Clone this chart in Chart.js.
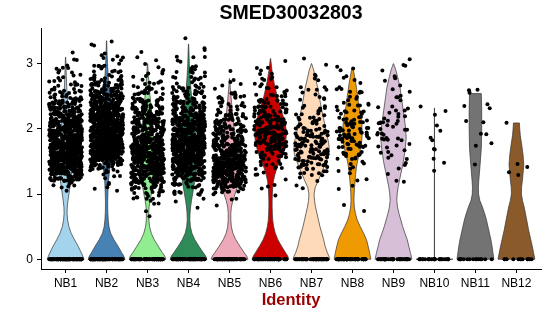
<!DOCTYPE html>
<html>
<head>
<meta charset="utf-8">
<script src="https://cdn.jsdelivr.net/npm/chart.js@4.4.1/dist/chart.umd.min.js"></script>
<style>
  html, body { margin: 0; padding: 0; background: #fff; }
  #wrap { width: 550px; height: 316px; }
</style>
</head>
<body>
<div id="wrap"><canvas id="vln"></canvas></div>
<script>
const categories = ['NB1', 'NB2', 'NB3', 'NB4', 'NB5', 'NB6', 'NB7', 'NB8', 'NB9', 'NB10', 'NB11', 'NB12'];
const fillColors = ['#A4D3EE', '#4682B4', '#90EE90', '#2E8B57', '#EEA9B8', '#CD0000',
                    '#FFDAB9', '#EE9A00', '#D8BFD8', '#BEBEBE', '#737373', '#8B5A2B'];
const yTicks = [0, 1, 2, 3];

// cells with zero expression, per identity
const zeroCounts = [80, 80, 60, 60, 60, 50, 50, 50, 40, 25, 15, 12];

// expressing cells per 0.1 bin, bins start at 0.5 (0.5, 0.6, ... 3.3)
const binStart = 0.5;
const binStep = 0.1;
const nb1Counts  = [0,0,0,0,0, 2,7,36,62,80, 92,86,74,62,56, 52,47,38,31,22, 12,8,6,5,4, 2,1,0,0];
const nb2Counts  = [0,0,0,0,0, 2,3,4,9,30, 55,74,86,92,92, 86,74,62,55,43, 34,24,14,9,7, 4,3,2,1];
const nb3Counts  = [0,1,1,3,7, 15,25,37,49,55, 59,55,52,47,42, 37,34,29,24,18, 12,8,6,4,3, 2,1,0,0];
const nb4Counts  = [0,0,1,1,3, 7,15,27,43,55, 68,74,74,68,59, 52,44,37,29,22, 17,12,8,6,4, 3,2,2,1];
const nb5Counts  = [0,0,0,1,3, 12,31,56,68,68, 55,43,34,29,24, 20,17,13,9,7, 5,3,2,1,0, 0,0,0,0];
const nb6Counts  = [0,0,0,0,1, 1,2,3,4,6, 10,16,22,26,28, 26,22,18,14,10, 8,6,4,3,2, 1,0,0,0];
const nb7Counts  = [0,0,0,0,0, 1,2,3,8,14, 18,20,20,18,14, 10,8,6,5,4, 4,3,2,2,1, 1,0,0,0];
const nb8Counts  = [0,0,1,1,0, 1,1,2,3,4, 6,8,12,14,14, 12,10,8,6,5, 4,3,3,2,2, 0,0,0,0];
const nb9Counts  = [0,0,0,0,0, 0,1,1,2,2, 3,3,4,6,7, 7,5,4,3,3, 2,2,2,2,2, 1,0,0,0];
const nb10Counts = [0,0,0,0,0, 0,0,0,1,1, 1,2,0,2,1, 1,0,2,1,0, 0,0,0,0,0, 0,0,0,0];
const nb11Counts = [0,0,0,0,0, 0,0,0,0,1, 0,0,2,0,2, 0,2,0,3,0, 3,0,0,0,0, 0,0,0,0];
const nb12Counts = [0,0,0,0,0, 0,0,1,1,2, 0,0,0,0,0, 1,0,0,0,0, 0,0,0,0,0, 0,0,0,0];
const pointCounts = [nb1Counts, nb2Counts, nb3Counts, nb4Counts, nb5Counts, nb6Counts,
                     nb7Counts, nb8Counts, nb9Counts, nb10Counts, nb11Counts, nb12Counts];

// violin outlines: [expression, relative half width]
const nb1Violin = [[0,1],[0.05,0.93],[0.1,0.85],[0.2,0.68],[0.3,0.48],[0.4,0.3],[0.5,0.18],[0.6,0.11],[0.7,0.08],[0.8,0.09],[0.9,0.13],[1.0,0.18],[1.2,0.28],[1.4,0.35],[1.6,0.35],[1.8,0.3],[2.0,0.24],[2.2,0.17],[2.4,0.11],[2.6,0.07],[2.8,0.04],[3.0,0.02],[3.1,0.005]];
const nb2Violin = [[0,1],[0.05,0.93],[0.1,0.82],[0.2,0.62],[0.3,0.4],[0.4,0.22],[0.5,0.13],[0.6,0.09],[0.7,0.07],[0.8,0.06],[0.9,0.06],[1.0,0.07],[1.2,0.1],[1.4,0.18],[1.6,0.26],[1.8,0.3],[2.0,0.3],[2.2,0.26],[2.4,0.2],[2.6,0.14],[2.8,0.09],[3.0,0.05],[3.2,0.02],[3.35,0.005]];
const nb3Violin = [[0,1],[0.05,0.93],[0.1,0.8],[0.2,0.58],[0.3,0.36],[0.4,0.2],[0.5,0.11],[0.6,0.07],[0.7,0.06],[0.8,0.08],[0.9,0.13],[1.0,0.2],[1.2,0.32],[1.4,0.38],[1.6,0.38],[1.8,0.34],[2.0,0.3],[2.2,0.24],[2.4,0.17],[2.6,0.1],[2.8,0.05],[3.0,0.005]];
const nb4Violin = [[0,1],[0.05,0.93],[0.1,0.8],[0.2,0.56],[0.3,0.34],[0.4,0.18],[0.5,0.1],[0.6,0.07],[0.7,0.08],[0.8,0.11],[0.9,0.16],[1.0,0.22],[1.2,0.34],[1.4,0.42],[1.6,0.45],[1.8,0.42],[2.0,0.36],[2.2,0.28],[2.4,0.2],[2.6,0.13],[2.8,0.08],[3.0,0.04],[3.2,0.02],[3.3,0.005]];
const nb5Violin = [[0,1],[0.05,0.93],[0.1,0.8],[0.2,0.56],[0.3,0.34],[0.4,0.18],[0.5,0.1],[0.6,0.07],[0.7,0.07],[0.8,0.1],[0.9,0.18],[1.0,0.3],[1.1,0.42],[1.2,0.52],[1.3,0.56],[1.4,0.54],[1.6,0.42],[1.8,0.32],[2.0,0.25],[2.2,0.18],[2.4,0.11],[2.6,0.05],[2.77,0.005]];
const nb6Violin = [[0,1],[0.05,0.93],[0.1,0.82],[0.2,0.6],[0.3,0.4],[0.4,0.26],[0.5,0.17],[0.6,0.12],[0.7,0.1],[0.8,0.09],[0.9,0.09],[1.0,0.1],[1.1,0.12],[1.2,0.16],[1.3,0.24],[1.4,0.35],[1.5,0.48],[1.6,0.62],[1.7,0.74],[1.8,0.82],[1.9,0.86],[2.0,0.84],[2.1,0.78],[2.2,0.68],[2.3,0.57],[2.4,0.46],[2.5,0.36],[2.6,0.28],[2.7,0.2],[2.8,0.14],[2.9,0.08],[3.0,0.04],[3.08,0.005]];
const nb7Violin = [[0,1],[0.05,0.94],[0.1,0.86],[0.2,0.74],[0.3,0.66],[0.4,0.56],[0.5,0.46],[0.6,0.38],[0.7,0.3],[0.8,0.22],[0.9,0.16],[1.0,0.14],[1.1,0.2],[1.2,0.36],[1.35,0.58],[1.5,0.8],[1.6,0.92],[1.7,0.96],[1.8,0.92],[1.9,0.84],[2.0,0.76],[2.1,0.7],[2.2,0.62],[2.4,0.48],[2.6,0.36],[2.8,0.2],[2.9,0.12],[3.0,0.005]];
const nb8Violin = [[0,1],[0.05,0.96],[0.1,0.93],[0.2,0.85],[0.3,0.76],[0.4,0.6],[0.5,0.42],[0.6,0.26],[0.7,0.16],[0.8,0.1],[0.9,0.08],[1.0,0.09],[1.1,0.11],[1.2,0.14],[1.3,0.17],[1.4,0.21],[1.5,0.27],[1.6,0.35],[1.7,0.44],[1.8,0.5],[1.9,0.52],[2.0,0.52],[2.1,0.5],[2.2,0.45],[2.3,0.38],[2.4,0.32],[2.5,0.28],[2.6,0.23],[2.7,0.18],[2.8,0.12],[2.9,0.05],[2.94,0.005]];
const nb9Violin = [[0,1],[0.1,0.92],[0.2,0.83],[0.3,0.75],[0.4,0.62],[0.5,0.5],[0.6,0.4],[0.7,0.3],[0.8,0.22],[0.9,0.18],[1.0,0.2],[1.1,0.25],[1.2,0.32],[1.35,0.43],[1.5,0.54],[1.7,0.64],[1.85,0.69],[2.0,0.66],[2.1,0.62],[2.3,0.52],[2.5,0.42],[2.63,0.36],[2.8,0.22],[2.9,0.13],[3.0,0.005]];
const nb10Violin = [[0,1],[0.006,0.004],[2.32,0.004]];
const nb11Violin = [[0,1],[0.1,0.95],[0.2,0.9],[0.3,0.84],[0.4,0.76],[0.5,0.68],[0.6,0.6],[0.7,0.5],[0.8,0.38],[0.9,0.24],[1.0,0.17],[1.1,0.16],[1.2,0.18],[1.4,0.24],[1.7,0.32],[2.0,0.34],[2.3,0.34],[2.54,0.32]];
const nb12Violin = [[0,1],[0.1,0.93],[0.2,0.86],[0.3,0.78],[0.45,0.66],[0.6,0.56],[0.8,0.42],[0.9,0.33],[1.0,0.27],[1.1,0.28],[1.25,0.34],[1.45,0.4],[1.6,0.36],[1.75,0.29],[1.9,0.21],[2.0,0.18],[2.09,0.16]];
const violins = [nb1Violin, nb2Violin, nb3Violin, nb4Violin, nb5Violin, nb6Violin,
                 nb7Violin, nb8Violin, nb9Violin, nb10Violin, nb11Violin, nb12Violin];

const VIOLIN_HALF = 0.45;
const JITTER = 0.4;

// fixed hash used only to scatter markers inside their bin (like geom_jitter)
function scatterOffset(k) {
  const s = Math.sin(k * 12.9898 + 78.233) * 43758.5453;
  return s - Math.floor(s);
}

function cellPoints(ci) {
  const cx = ci + 1;
  const pts = [];
  let k = ci * 1000;
  for (let j = 0; j < zeroCounts[ci]; j++) {
    k++;
    pts.push({ x: cx + 2 * JITTER * (scatterOffset(k) - 0.5), y: 0 });
  }
  pointCounts[ci].forEach((n, b) => {
    for (let j = 0; j < n; j++) {
      k++;
      pts.push({
        x: cx + 2 * JITTER * (scatterOffset(k) - 0.5),
        y: binStart + binStep * b + binStep * scatterOffset(k + 0.5)
      });
    }
  });
  return pts;
}

const violinPlugin = {
  id: 'violins',
  beforeDatasetsDraw(chart) {
    const { ctx, scales: { x, y } } = chart;
    ctx.save();
    violins.forEach((prof, ci) => {
      const cx = ci + 1;
      ctx.beginPath();
      prof.forEach(([v, w], i) => {
        const px = x.getPixelForValue(cx - w * VIOLIN_HALF);
        const py = y.getPixelForValue(v);
        i ? ctx.lineTo(px, py) : ctx.moveTo(px, py);
      });
      for (let i = prof.length - 1; i >= 0; i--) {
        const [v, w] = prof[i];
        ctx.lineTo(x.getPixelForValue(cx + w * VIOLIN_HALF), y.getPixelForValue(v));
      }
      ctx.closePath();
      ctx.fillStyle = fillColors[ci];
      ctx.fill();
      ctx.lineWidth = 0.7;
      ctx.strokeStyle = '#333';
      ctx.lineJoin = 'round';
      ctx.stroke();
    });
    ctx.restore();
  }
};

new Chart('vln', {
  type: 'scatter',
  data: {
    datasets: categories.map((c, ci) => ({
      label: c,
      data: cellPoints(ci),
      pointRadius: 2,
      pointHoverRadius: 2,
      backgroundColor: '#000',
      borderWidth: 0
    }))
  },
  options: {
    responsive: true,
    maintainAspectRatio: false,
    animation: false,
    events: [],
    layout: { padding: { left: 0, right: 9, top: 0, bottom: 0 } },
    plugins: {
      legend: { display: false },
      tooltip: { enabled: false },
      title: {
        display: true,
        text: 'SMED30032803',
        fullSize: false,
        color: '#000',
        font: { family: 'Liberation Sans', size: 19.5, weight: 'bold', lineHeight: 1.2 },
        padding: { top: 2, bottom: 3 }
      }
    },
    scales: {
      x: {
        type: 'linear',
        min: 0.4,
        max: 12.6,
        afterBuildTicks: s => { s.ticks = categories.map((c, i) => ({ value: i + 1 })); },
        afterFit: s => { s.height = 47; },
        grid: { drawOnChartArea: false, drawTicks: true, tickLength: 4, color: '#000' },
        border: { display: true, color: '#000', width: 1 },
        ticks: {
          autoSkip: false,
          maxRotation: 0,
          padding: 3,
          color: '#000',
          font: { family: 'Liberation Sans', size: 12 },
          callback: v => categories[Math.round(v) - 1]
        },
        title: {
          display: true,
          text: 'Identity',
          color: '#990000',
          font: { family: 'Liberation Sans', size: 16.5, weight: 'bold', lineHeight: 1.2 },
          padding: { top: 0, bottom: 6 }
        }
      },
      y: {
        min: -0.15,
        max: 3.54,
        afterBuildTicks: s => { s.ticks = yTicks.map(v => ({ value: v })); },
        afterFit: s => { s.width = 41; },
        grid: { drawOnChartArea: false, drawTicks: true, tickLength: 4, color: '#000' },
        border: { display: true, color: '#000', width: 1 },
        ticks: {
          padding: 4,
          color: '#000',
          font: { family: 'Liberation Sans', size: 12 }
        }
      }
    }
  },
  plugins: [violinPlugin]
});
</script>
</body>
</html>
